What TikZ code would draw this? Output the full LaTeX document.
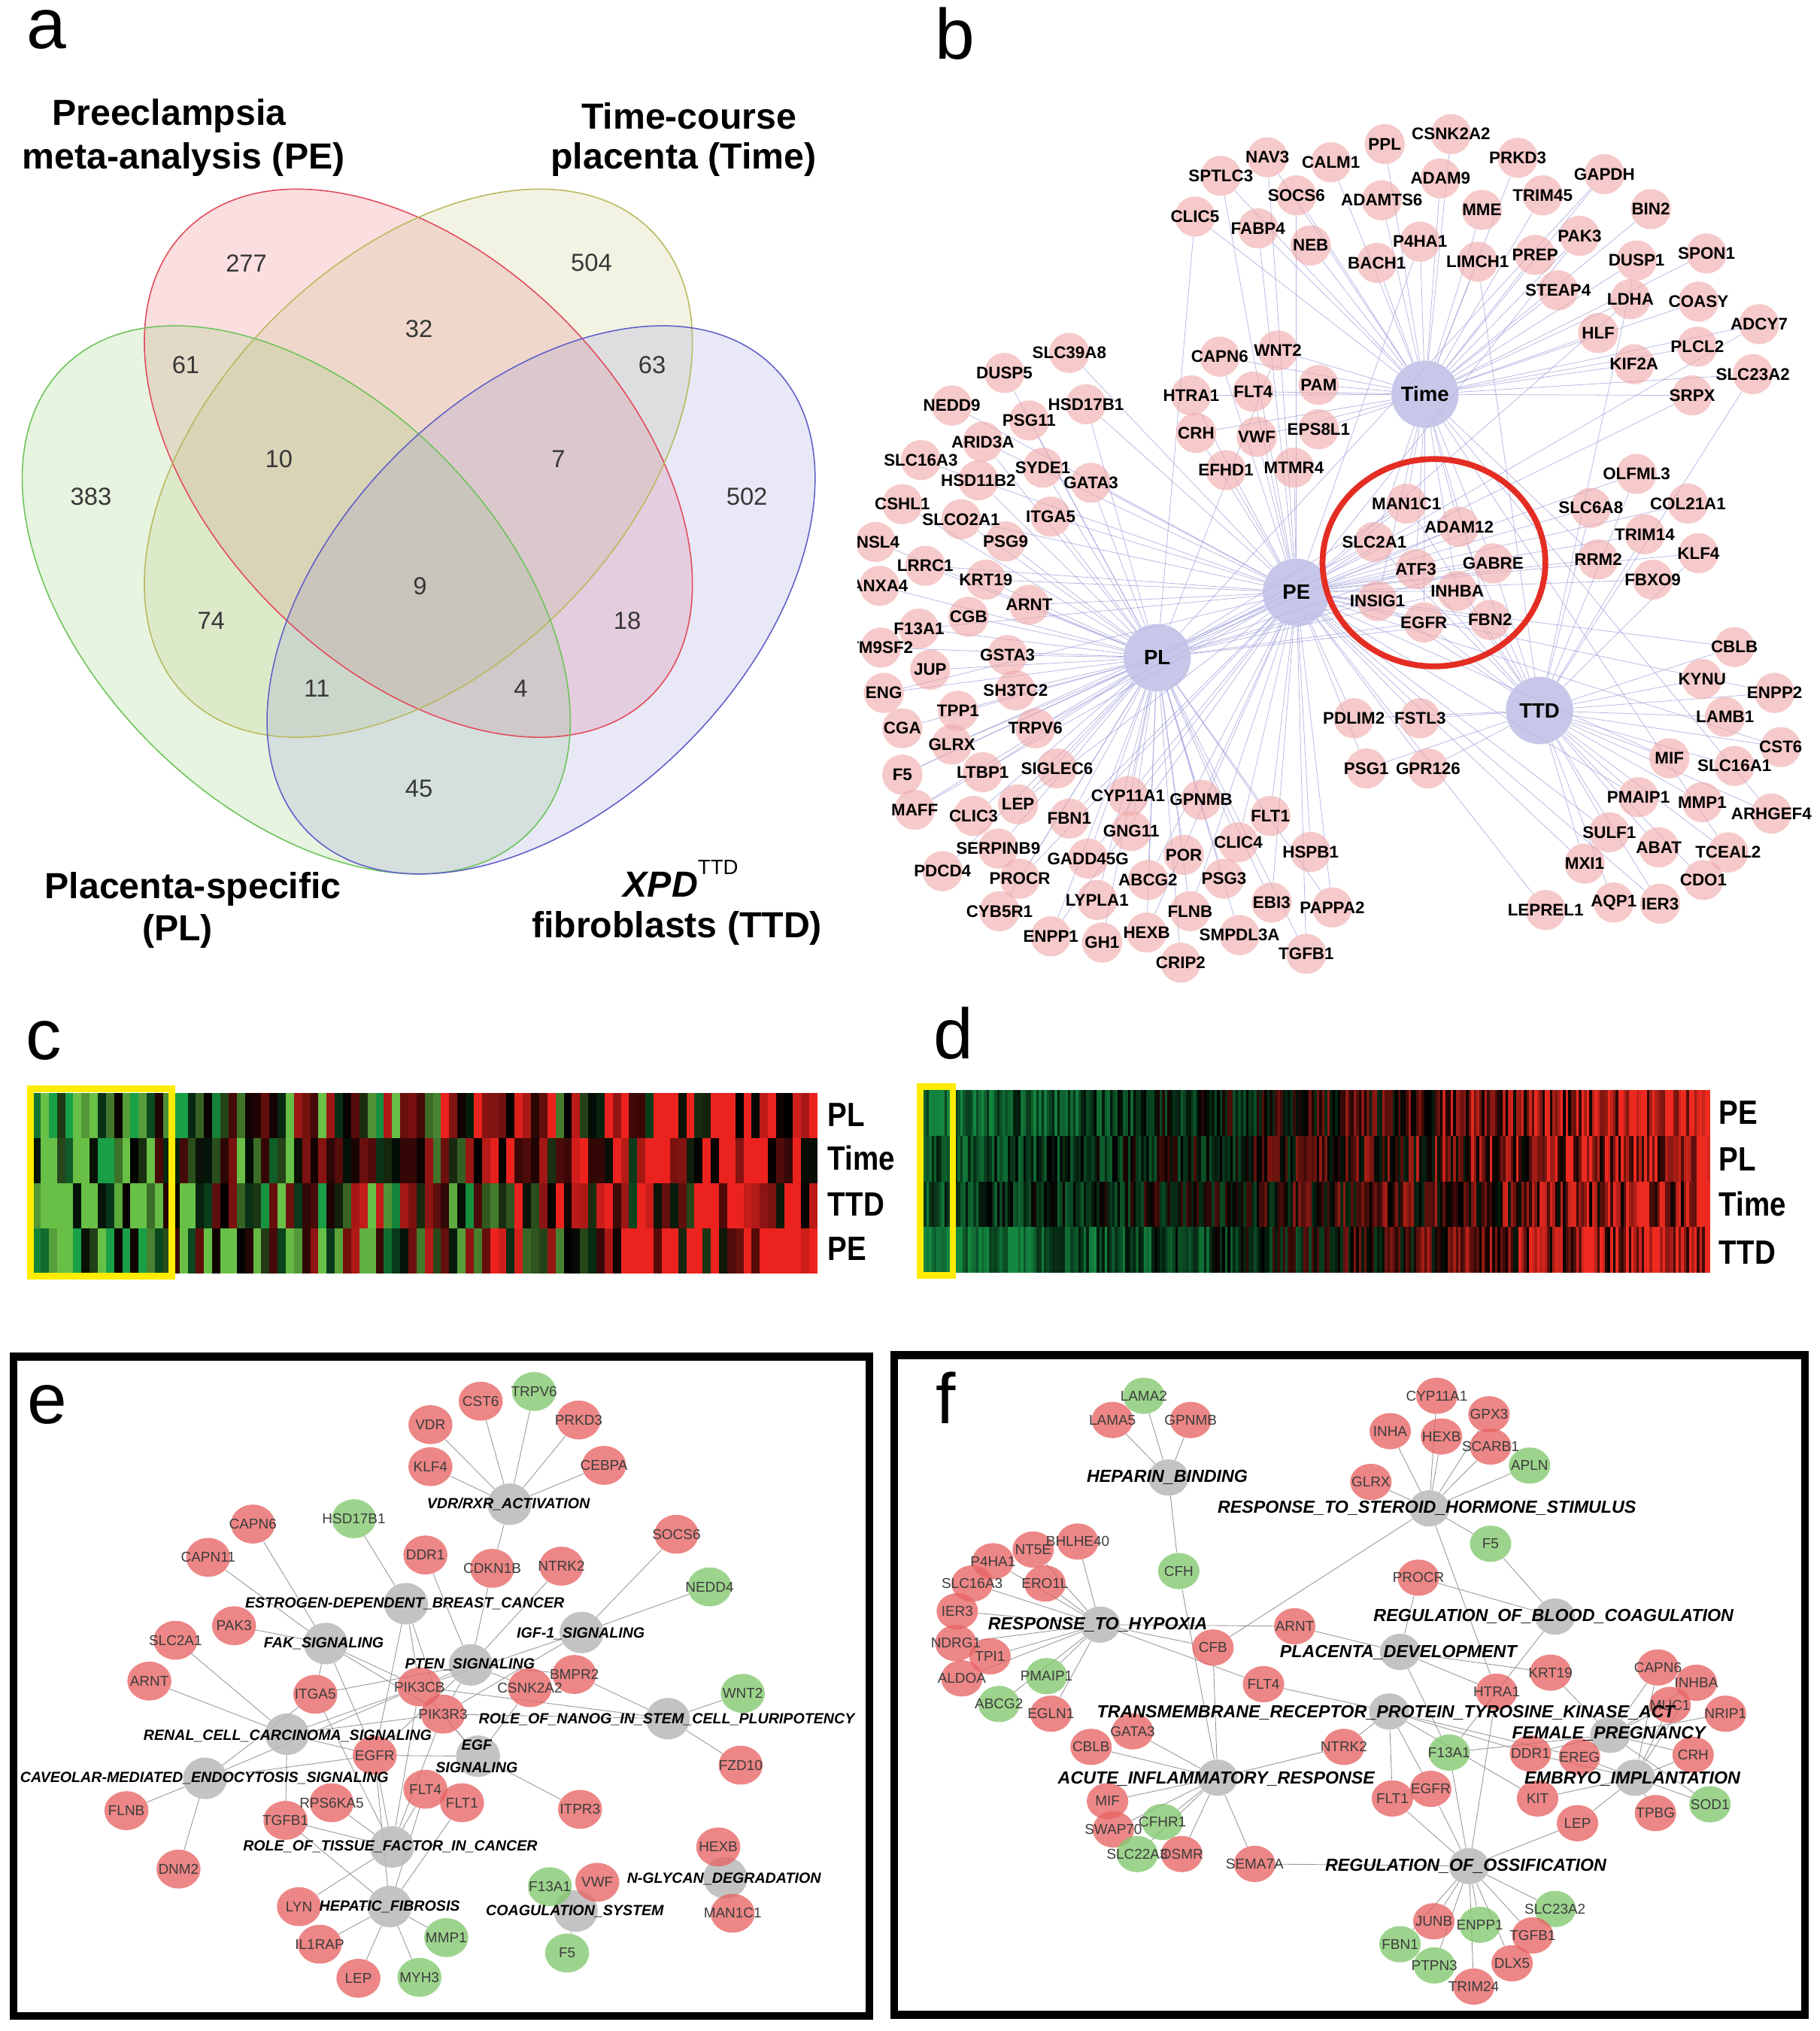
\documentclass[tikz,border=0pt]{standalone}
\usepackage{fontspec}
\setmainfont{Liberation Sans}
\newfontfamily\rowfont[FakeStretch=0.86]{Liberation Sans}
\usetikzlibrary{shapes.geometric}
\pgfdeclarelayer{bg}
\pgfsetlayers{bg,main}
\definecolor{vredL}{RGB}{225,75,90}
\definecolor{vredF}{RGB}{235,90,100}
\definecolor{vyelL}{RGB}{185,185,95}
\definecolor{vyelF}{RGB}{195,195,120}
\definecolor{vgrnL}{RGB}{110,195,90}
\definecolor{vgrnF}{RGB}{130,200,100}
\definecolor{vbluL}{RGB}{95,95,200}
\definecolor{vbluF}{RGB}{140,140,215}
\definecolor{numgray}{RGB}{55,55,55}
\definecolor{bpink}{RGB}{240,168,168}
\definecolor{bhubc}{RGB}{185,185,228}
\definecolor{bedgec}{RGB}{160,160,220}
\definecolor{circred}{RGB}{228,45,35}
\definecolor{hmg}{RGB}{105,192,70}
\definecolor{hmgb}{RGB}{25,160,70}
\definecolor{hmr}{RGB}{235,34,30}
\definecolor{hdg}{RGB}{20,135,65}
\definecolor{hdr}{RGB}{238,42,32}
\definecolor{hyel}{RGB}{255,236,0}
\definecolor{nred}{RGB}{232,100,100}
\definecolor{ngrn}{RGB}{130,200,110}
\definecolor{nhub}{RGB}{185,185,185}
\definecolor{ntext}{RGB}{60,60,60}
\definecolor{edgegray}{RGB}{150,150,150}
\tikzset{
 vnum/.style={font=\fontsize{19}{19}\selectfont, text=numgray, inner sep=0},
 vtitle/.style={font=\fontsize{28}{28}\selectfont\bfseries, inner sep=0},
 plab/.style={font=\fontsize{55}{55}\selectfont, inner sep=0},
 bgene/.style={circle, minimum size=31pt, inner sep=0, fill=bpink, fill opacity=0.6},
 bhub/.style={circle, minimum size=52pt, inner sep=0, fill=bhubc, fill opacity=0.8},
 btxt/.style={font=\fontsize{13}{13}\selectfont\bfseries, inner sep=0},
 bhtxt/.style={font=\fontsize{16}{16}\selectfont\bfseries, inner sep=0},
 bedge/.style={draw=bedgec, line width=0.45pt, opacity=0.75},
 rowlab/.style={font=\rowfont\fontsize{26}{26}\selectfont\bfseries, inner sep=0, anchor=west},
 gener/.style={ellipse, minimum width=34pt, minimum height=30pt, inner sep=0, fill=nred, fill opacity=0.78},
 geneg/.style={ellipse, minimum width=34pt, minimum height=30pt, inner sep=0, fill=ngrn, fill opacity=0.78},
 ehub/.style={ellipse, minimum width=34pt, minimum height=32pt, inner sep=0, fill=nhub, fill opacity=0.85},
 fgener/.style={ellipse, minimum width=32pt, minimum height=28pt, inner sep=0, fill=nred, fill opacity=0.78},
 fgeneg/.style={ellipse, minimum width=32pt, minimum height=28pt, inner sep=0, fill=ngrn, fill opacity=0.78},
 fhub/.style={ellipse, minimum width=31pt, minimum height=28pt, inner sep=0, fill=nhub, fill opacity=0.85},
 etxt/.style={font=\fontsize{11}{11}\selectfont, text=ntext, inner sep=0},
 ftxt/.style={font=\fontsize{11}{11}\selectfont, text=ntext, inner sep=0},
 ehtxt/.style={font=\fontsize{11.4}{17}\selectfont\bfseries\itshape, inner sep=0, align=center},
 fhtxt/.style={font=\fontsize{13.5}{13.5}\selectfont\bfseries\itshape, inner sep=0},
 nedge/.style={draw=edgegray, line width=0.5pt},
 panelbox/.style={draw=black, line width=6pt}
}
\def\blist{NAV3/978.4/121.4/{Ti,PE}, CALM1/1027.5/125.3/{Ti}, PPL/1069/111.2/{Ti}, CSNK2A2/1120.2/103.5/{Ti},
PRKD3/1171.7/121.8/{Ti}, SPTLC3/942.5/135.7/{Ti,PE}, ADAM9/1112/137.7/{Ti}, GAPDH/1238.6/134.4/{Ti,PL},
SOCS6/1000.8/150.8/{Ti,PE}, ADAMTS6/1066.7/154.6/{Ti}, TRIM45/1190.9/150.8/{Ti}, MME/1144/162/{Ti},
BIN2/1274.4/161.4/{Ti}, CLIC5/922.5/167.2/{Ti,PL}, FABP4/971.2/176.3/{Ti,PE}, PAK3/1219.5/182/{Ti,PE},
P4HA1/1096.3/186.5/{Ti,PE}, NEB/1011.8/189.4/{Ti}, SPON1/1317.4/195.6/{Ti}, PREP/1185.1/196.7/{Ti},
DUSP1/1263.4/201/{Ti,TT}, LIMCH1/1140.7/202/{Ti,TT}, BACH1/1062.9/202.9/{Ti}, STEAP4/1202.8/224.1/{Ti},
LDHA/1258.7/230.9/{Ti,PE}, COASY/1311.2/232.8/{Ti}, ADCY7/1358/250.2/{Ti,PE}, HLF/1233.8/257/{Ti},
PLCL2/1310.3/267.6/{Ti}, KIF2A/1261.5/281.1/{Ti}, SLC23A2/1353.2/288.8/{Ti,TT}, SRPX/1306.4/305.2/{Ti,PL},
CAPN6/941.6/275.3/{Ti,PE}, WNT2/986.5/270.5/{Ti,PL}, PAM/1018/297.1/{Ti}, HTRA1/919.6/305.2/{Ti,PE},
FLT4/967.4/302.3/{Ti,PE}, CRH/923.4/334.2/{Ti,PE}, VWF/970.2/337.1/{Ti,PE}, EPS8L1/1018/331.3/{Ti},
EFHD1/946.4/362.9/{PE}, MTMR4/998.9/361/{PE},
SLC39A8/825.5/272.4/{PE}, DUSP5/775.4/287.9/{PL}, HSD17B1/838.4/312/{PE,PL}, NEDD9/734.8/313/{PE},
PSG11/794.5/324.5/{PL}, ARID3A/758.7/341/{PL,PE}, SLC16A3/710.9/355.1/{PE}, SYDE1/805/361/{PL},
HSD11B2/755.3/370.7/{PL}, GATA3/842.2/372.6/{PL,PE}, CSHL1/696.6/389.1/{PL}, SLCO2A1/742/400.8/{PL,PE},
ITGA5/811.2/398.8/{PL,PE}, INSL4/676/418.3/{PL}, PSG9/776.3/417.9/{PL}, LRRC1/714.3/436.7/{PL,PE},
KRT19/761.1/447.4/{PL,PE}, ANXA4/679/452.2/{PL}, ARNT/794.5/466.8/{PL,PE}, CGB/747.7/476.1/{PL},
F13A1/709.5/485.2/{PL,PE}, TM9SF2/680/499.8/{PL}, GSTA3/777.8/505.6/{PL}, JUP/718.1/516.9/{PL},
SH3TC2/784/532.8/{PL}, ENG/682.3/534.8/{PL,PE}, TPP1/739.6/548.6/{PL}, CGA/696.6/562.1/{PL},
TRPV6/799.3/562.1/{PL,PE}, GLRX/734.8/574.7/{PL,PE}, F5/696.6/597.9/{PL,PE}, LTBP1/758.7/596/{PL},
SIGLEC6/816/593.1/{PL}, CYP11A1/870.9/614.4/{PL,PE}, GPNMB/927.2/617.3/{PL,PE}, LEP/785.9/620.8/{PL,PE},
MAFF/706.1/625/{PL,PE}, CLIC3/751.5/629.8/{PL}, FBN1/825.5/631.8/{PL,PE}, FLT1/980.7/629.8/{PL,PE},
GNG11/873.3/641.4/{PL}, CLIC4/955.9/650.1/{PL,PE}, HSPB1/1011.8/657.5/{PE}, SERPINB9/770.6/655/{PL},
GADD45G/839.9/662.7/{PL,PE}, POR/913.9/659.8/{PL}, PDCD4/727.6/672.4/{PL}, PROCR/787.3/678.2/{PL,PE},
ABCG2/886.2/679.2/{PL,PE}, PSG3/944.9/678.2/{PL}, LYPLA1/847/694.6/{PL}, EBI3/981.7/696.6/{PL,PE},
PAPPA2/1028.5/700.4/{PL,PE}, CYB5R1/771.6/703.3/{PL}, FLNB/918.7/703.3/{PL,PE}, ENPP1/811.2/722.7/{PL,PE},
GH1/850.8/727.5/{PL}, HEXB/885.2/719.8/{PL,PE}, SMPDL3A/956.9/721.7/{PL}, TGFB1/1008.4/736.2/{PL,PE},
CRIP2/911.5/743/{PL},
MAN1C1/1085.8/388.7/{Ti,PE,PL,TT}, ADAM12/1126.4/406.6/{Ti,PE,PL,TT}, SLC2A1/1061/418.3/{Ti,PE,PL,TT},
GABRE/1152.7/434.8/{Ti,PE,PL,TT}, ATF3/1093/439.2/{Ti,PE,PL,TT}, INHBA/1125/456.1/{Ti,PE,PL,TT},
INSIG1/1063.4/463.9/{Ti,PE,PL,TT}, EGFR/1099.2/480.4/{Ti,PE,PL,TT}, FBN2/1150.3/478.5/{Ti,PE,PL,TT},
OLFML3/1263.4/365.8/{PE,TT}, SLC6A8/1228.1/392/{PE,TT}, COL21A1/1303.1/388.7/{PE}, TRIM14/1269.7/412.4/{PE,TT},
KLF4/1311.2/427/{PE,TT}, RRM2/1233.8/431.8/{PE,Ti}, FBXO9/1275.9/447.4/{PE},
PDLIM2/1045.2/554.4/{PE,TT}, FSTL3/1096.3/554.4/{PE,TT}, PSG1/1054.8/593.1/{PE,TT}, GPR126/1102.5/593.1/{PE,TT},
CBLB/1338.9/499.4/{TT,PE}, KYNU/1314/524.1/{TT}, ENPP2/1370/534.8/{TT,PE}, LAMB1/1331.7/553.3/{TT},
CST6/1374.7/576.6/{TT,PE}, MIF/1288.7/585.3/{TT,PE}, SLC16A1/1339/591.2/{TT}, PMAIP1/1264.9/615.3/{TT,PE},
MMP1/1314.1/619.2/{TT}, ARHGEF4/1367.5/627.9/{TT,Ti}, SULF1/1242.4/642.4/{TT,PE}, ABAT/1280.6/654/{TT},
TCEAL2/1334.1/657.9/{TT,Ti}, MXI1/1223.3/666.6/{TT,PE}, CDO1/1315/679.2/{TT}, LEPREL1/1193.2/702.4/{PE},
AQP1/1245.8/696.6/{TT}, IER3/1281.6/697.5/{TT,PE}}
\def\elist{VDR/332.3/1099.6/r, CST6/371.1/1081.5/r, TRPV6/412.3/1074/g, PRKD3/446.7/1096/r, KLF4/332.3/1132/r,
CEBPA/466.3/1131/r, HSD17B1/273.2/1172.2/g, CAPN6/195.2/1176.3/r, CAPN11/160.7/1202/r, DDR1/328.4/1200.2/r,
CDKN1B/380/1210.5/r, NTRK2/433.4/1208.8/r, SOCS6/522.2/1184.2/r, NEDD4/547.8/1224.8/g, PAK3/180.7/1254.8/r,
SLC2A1/135.5/1266/r, ARNT/115.3/1297.5/r, ITGA5/243.4/1307.7/r, PIK3CB/323.8/1302/r, PIK3R3/342/1323/r,
BMPR2/443.4/1292.4/r, CSNK2A2/409/1302.6/r, WNT2/573.4/1307/g, EGFR/289.3/1354.8/r, FLT4/328.4/1381/r,
FLT1/356.7/1391.4/r, FZD10/571.8/1362.4/r, FLNB/97.6/1397.5/r, RPS6KA5/256/1391.4/r, TGFB1/220.4/1405/r,
ITPR3/447.8/1396.5/r, DNM2/137.8/1442.6/r, HEXB/554.5/1425.5/r, F13A1/424.5/1456.2/g, VWF/461.1/1452.8/r,
MAN1C1/565.6/1476.7/r, LYN/230.8/1471.6/r, IL1RAP/246.8/1500.6/r, MMP1/344.5/1495.5/g, F5/437.8/1507.4/g,
LEP/276.7/1526.9/r, MYH3/323.8/1526.2/g}
\def\flist{LAMA2/883/1077.3/g, LAMA5/858.8/1096/r, GPNMB/919.2/1096/r, CYP11A1/1109.2/1077.3/r, GPX3/1149.5/1091.6/r,
INHA/1073.2/1104.6/r, HEXB/1112.8/1108.7/r, SCARB1/1150.7/1116.5/r, APLN/1180.8/1131.2/g, GLRX/1058.3/1143.8/r,
F5/1150.7/1191.5/g, BHLHE40/832/1189.8/r, NT5E/797.6/1196/r, P4HA1/766.6/1205/r, ERO1L/806.7/1222.2/r,
SLC16A3/750.5/1222.2/r, CFH/910/1212.6/g, PROCR/1095/1217.7/r, IER3/739/1243.6/r, ARNT/999.5/1255.2/r,
NDRG1/737.9/1268.2/r, CFB/936.4/1271.6/r, TPI1/764.3/1278.4/r, KRT19/1197/1291/r, CAPN6/1279.9/1287/r,
INHBA/1309.5/1298.8/r, ALDOA/742.5/1295.4/r, PMAIP1/807.9/1293.7/g, FLT4/975.4/1299.9/r, HTRA1/1155.4/1305.7/r,
MUC1/1289.3/1315.9/r, NRIP1/1332/1322.7/r, ABCG2/771.2/1315.2/g, EGLN1/811.3/1322.7/r, GATA3/874.4/1336.3/r,
CBLB/842.3/1348.3/r, NTRK2/1037.4/1348.3/r, F13A1/1118.7/1352.7/g, DDR1/1181.5/1353.4/r, EREG/1219.4/1356.1/r,
CRH/1307.1/1354.4/r, FLT1/1074.9/1388.1/r, EGFR/1104.5/1380.7/r, KIT/1187/1388.1/r, SOD1/1320.1/1392.6/g,
MIF/855/1390.2/r, CFHR1/897.4/1406.2/g, SWAP70/859.5/1412/r, TPBG/1278/1399.4/r, LEP/1217.8/1407.2/r,
SLC22A3/877.9/1431/g, OSMR/912.3/1431/r, SEMA7A/968.6/1438.6/r, SLC23A2/1200.5/1473.4/g, JUNB/1106.9/1482.9/r,
ENPP1/1142.4/1485.6/g, TGFB1/1183.2/1493.8/r, FBN1/1080.8/1500.6/g, DLX5/1167.3/1515.3/r, PTPN3/1107.3/1517/g,
TRIM24/1137.7/1533.3/r}
\begin{document}
\begin{tikzpicture}[x=1pt,y=-1pt]
\begin{pgfonlayer}{bg}
\fill[white] (0,0) rectangle (1405,1567.6);
\end{pgfonlayer}
\useasboundingbox (0,0) rectangle (1405,1567.6);

% ---------- panel letters
\node[plab] (la) at (36,23) {a};
\node[plab] (lb) at (737,26) {b};
\node[plab] (lc) at (34,803) {c};
\node[plab] (ld) at (736,797.6) {d};
\node[plab] (le) at (36.7,1084) {e};
\node[plab] (lf) at (729.9,1079) {f};

% ---------- panel a: Venn
\foreach \cx/\cy/\ang/\col in {323/357.5/-45/vred, 323/357.5/45/vyel, 228.7/463/-45/vgrn, 417.7/463/45/vblu}{
  \fill[\col F, fill opacity=0.2, rotate around={\ang:(\cx,\cy)}] (\cx,\cy) ellipse [x radius=254pt, y radius=158pt];
}
\foreach \cx/\cy/\ang/\col in {323/357.5/-45/vred, 323/357.5/45/vyel, 228.7/463/-45/vgrn, 417.7/463/45/vblu}{
  \draw[\col L, line width=0.9pt, rotate around={\ang:(\cx,\cy)}] (\cx,\cy) ellipse [x radius=254pt, y radius=158pt];
}
\foreach \nm/\x/\y in {277/190.2/203, 504/456.6/203, 32/323.4/254, 61/143.4/281.8, 63/503.4/281.8,
  10/215.3/354.3, 7/431/354.3, 383/70.2/383.5, 502/576.6/383.5, 9/324.3/452.7, 74/163/479,
  18/484.3/479, 11/244.7/531.5, 4/402.1/531.5, 45/323.4/608.9}{
  \node[vnum] (v\nm) at (\x,\y) {\nm};
}
\node[vtitle] (t1) at (130.6,89.3) {Preeclampsia};
\node[vtitle] (t2) at (141.7,123.2) {meta-analysis (PE)};
\node[vtitle] (t3) at (531.9,89.3) {Time-course};
\node[vtitle] (t4) at (527.7,123.2) {placenta (Time)};
\node[vtitle] (t5) at (149,686.2) {Placenta-specific};
\node[vtitle] (t6) at (137,718.7) {(PL)};
\node[vtitle] (t7) at (525.5,678) {\textit{XPD}\raisebox{0.62em}{\fontsize{16}{16}\selectfont\mdseries TTD}};
\node[vtitle] (t8) at (522.6,716.3) {fibroblasts (TTD)};

% ---------- panel b: network
\node[bhub] (bhTi) at (1100.1,304.3) {};
\node[bhub] (bhPE) at (1000.8,457.1) {};
\node[bhub] (bhPL) at (893.3,507.6) {};
\node[bhub] (bhTT) at (1188.5,548.4) {};
\begin{scope}
\clip (662,60) rectangle (1405,770);
\foreach \n/\x/\y/\h in \blist { \node[bgene] (b\n) at (\x,\y) {}; }
\draw[circred, line width=4.5pt] (1107,434.3) ellipse [x radius=86pt, y radius=80pt];
\foreach \n/\x/\y/\h in \blist { \node[btxt] at (b\n) {\n}; }
\end{scope}
\node[bhtxt] at (bhTi) {Time};
\node[bhtxt] at (bhPE) {PE};
\node[bhtxt] at (bhPL) {PL};
\node[bhtxt] at (bhTT) {TTD};
\begin{pgfonlayer}{bg}
\foreach \n/\x/\y/\h in \blist { \foreach \k in \h { \draw[bedge] (b\n) -- (bh\k); } }
\end{pgfonlayer}

% ---------- panel c: heatmap
\pgfmathsetseed{20240}
\foreach \ytop in {843.8,878.6,913.4,948.2}{
  \foreach \cl in {0,...,95}{
    \pgfmathsetmacro\vv{-1.05+2.05*\cl/95+1.1*rand}
    \pgfmathsetmacro\ss{rand}
    \pgfmathtruncatemacro\pp{min(100,abs(\vv)*92)}
    \ifdim\vv pt<0pt
      \ifdim\ss pt<-0.3pt\def\cc{hmgb}\else\def\cc{hmg}\fi
    \else\def\cc{hmr}\fi
    \fill[\cc!\pp!black] (25+6.31*\cl,\ytop) rectangle ++(6.45,34.9);
  }
}
\draw[hyel, line width=5pt] (23.5,840.3) rectangle (132.5,985);
\node[rowlab] (cPL) at (639,860.6) {PL};
\node[rowlab] (cTi) at (639,894) {Time};
\node[rowlab] (cTT) at (639,929.5) {TTD};
\node[rowlab] (cPE) at (639,964) {PE};

% ---------- panel d: heatmap
\foreach \ytop/\amp/\off in {841.3/1.0/0.0, 876.6/0.85/0.05, 911.9/0.7/0.05, 947.2/1.1/-0.12}{
  \foreach \cl in {0,...,299}{
    \pgfmathsetmacro\vv{\amp*(-0.8+1.7*\cl/299)+\off+(0.4+0.25*\cl/299)*rand}
    \pgfmathtruncatemacro\pp{min(100,abs(\vv)*100)}
    \ifdim\vv pt<0pt\def\cc{hdg}\else\def\cc{hdr}\fi
    \fill[\cc!\pp!black] (713+2.0233*\cl,\ytop) rectangle ++(2.1,35.4);
  }
}
\draw[hyel, line width=5pt] (710.5,838.5) rectangle (735.7,984.5);
\node[rowlab] (dPE) at (1327,858.6) {PE};
\node[rowlab] (dPL) at (1327,895) {PL};
\node[rowlab] (dTi) at (1327,929.5) {Time};
\node[rowlab] (dTT) at (1327,966.9) {TTD};

% ---------- panel e
\draw[panelbox] (10.5,1047) rectangle (671,1556);
\foreach \n/\x/\y in {VDR/393.4/1161, EST/313.4/1237.8, FAK/251.4/1268.5, IGF/449/1260, PTEN/363.4/1285,
  NANOG/515.6/1326.5, RENAL/221.6/1338.5, EGF/369/1355.5, CAV/158.4/1372.6, TISSUE/302.6/1425.5,
  HEP/300.8/1471.6, COAG/444.5/1475, NGLY/560/1449.4}{
  \node[ehub] (eh\n) at (\x,\y) {};
}
\foreach \n/\x/\y/\cl in \elist { \node[gene\cl] (e\n) at (\x,\y) {}; }
\begin{pgfonlayer}{bg}
\foreach \ea/\eb in {ehVDR/eVDR, ehVDR/eCST6, ehVDR/eTRPV6, ehVDR/ePRKD3, ehVDR/eKLF4, ehVDR/eCEBPA, ehVDR/eCDKN1B,
  ehEST/eHSD17B1, ehEST/ePIK3CB, ehEST/ePIK3R3, ehEST/eEGFR,
  ehFAK/eCAPN6, ehFAK/eCAPN11, ehFAK/ePAK3, ehFAK/eITGA5, ehFAK/ePIK3CB, ehFAK/ePIK3R3, ehFAK/eEGFR,
  ehPTEN/eDDR1, ehPTEN/eCDKN1B, ehPTEN/eNTRK2, ehPTEN/ePIK3CB, ehPTEN/ePIK3R3, ehPTEN/eCSNK2A2, ehPTEN/eBMPR2, ehPTEN/eEGFR, ehPTEN/eITGA5,
  ehIGF/eSOCS6, ehIGF/eNEDD4, ehIGF/ePIK3CB, ehIGF/ePIK3R3,
  ehNANOG/eWNT2, ehNANOG/eFZD10, ehNANOG/eBMPR2, ehNANOG/ePIK3CB, ehNANOG/ePIK3R3,
  ehRENAL/eSLC2A1, ehRENAL/eARNT, ehRENAL/ePIK3CB, ehRENAL/ePIK3R3, ehRENAL/eTGFB1, ehRENAL/eEGFR,
  ehEGF/eEGFR, ehEGF/ePIK3CB, ehEGF/ePIK3R3, ehEGF/eITPR3, ehEGF/eCSNK2A2,
  ehCAV/eFLNB, ehCAV/eDNM2, ehCAV/eEGFR, ehCAV/eITGA5, ehCAV/ePIK3CB,
  ehTISSUE/eRPS6KA5, ehTISSUE/eEGFR, ehTISSUE/ePIK3CB, ehTISSUE/ePIK3R3, ehTISSUE/eITGA5, ehTISSUE/eFLT4, ehTISSUE/eTGFB1, ehTISSUE/eLYN,
  ehHEP/eLYN, ehHEP/eIL1RAP, ehHEP/eLEP, ehHEP/eMYH3, ehHEP/eMMP1, ehHEP/eFLT1, ehHEP/eFLT4, ehHEP/eEGFR, ehHEP/eTGFB1,
  ehCOAG/eF13A1, ehCOAG/eVWF, ehCOAG/eF5, ehNGLY/eHEXB, ehNGLY/eMAN1C1}{
  \draw[nedge] (\ea) -- (\eb);
}
\end{pgfonlayer}
\foreach \n/\x/\y/\cl in \elist { \node[etxt] at (e\n) {\n}; }
\node[ehtxt] at (392.5,1161) {VDR/RXR\_ACTIVATION};
\node[ehtxt] at (312.5,1237.8) {ESTROGEN-DEPENDENT\_BREAST\_CANCER};
\node[ehtxt] at (250,1268.5) {FAK\_SIGNALING};
\node[ehtxt] at (448.3,1261) {IGF-1\_SIGNALING};
\node[ehtxt] at (362.8,1285) {PTEN\_SIGNALING};
\node[ehtxt] at (514.7,1327) {ROLE\_OF\_NANOG\_IN\_STEM\_CELL\_PLURIPOTENCY};
\node[ehtxt] at (222,1340) {RENAL\_CELL\_CARCINOMA\_SIGNALING};
\node[ehtxt] at (368,1355.5) {EGF\\SIGNALING};
\node[ehtxt] at (157.8,1372.6) {CAVEOLAR-MEDIATED\_ENDOCYTOSIS\_SIGNALING};
\node[ehtxt] at (301.3,1425.5) {ROLE\_OF\_TISSUE\_FACTOR\_IN\_CANCER};
\node[ehtxt] at (300.8,1471.6) {HEPATIC\_FIBROSIS};
\node[ehtxt] at (443.8,1475) {COAGULATION\_SYSTEM};
\node[ehtxt] at (558.9,1450) {N-GLYCAN\_DEGRADATION};

% ---------- panel f
\draw[panelbox] (690.5,1046) rectangle (1393.5,1555);
\foreach \n/\x/\y in {HEP/902/1140.4, STER/1103.3/1164.2, HYP/849.2/1253.9, BLOOD/1200.5/1247.7,
  PLAC/1080.8/1275, TRANS/1072.5/1321, FEM/1243.1/1339, ACUTE/939.9/1372.1, EMB/1262.1/1372.1, OSS/1134.1/1440.3}{
  \node[fhub] (fh\n) at (\x,\y) {};
}
\foreach \n/\x/\y/\cl in \flist { \node[fgene\cl] (f\n) at (\x,\y) {}; }
\begin{pgfonlayer}{bg}
\foreach \ea/\eb in {fhHEP/fLAMA2, fhHEP/fLAMA5, fhHEP/fGPNMB, fhHEP/fCFH,
  fhSTER/fCYP11A1, fhSTER/fINHA, fhSTER/fHEXB, fhSTER/fGPX3, fhSTER/fSCARB1, fhSTER/fAPLN, fhSTER/fGLRX, fhSTER/fF5, fhSTER/fCFB, fhSTER/fHTRA1,
  fhHYP/fBHLHE40, fhHYP/fNT5E, fhHYP/fP4HA1, fhHYP/fERO1L, fhHYP/fSLC16A3, fhHYP/fIER3, fhHYP/fNDRG1, fhHYP/fTPI1, fhHYP/fALDOA,
  fhHYP/fPMAIP1, fhHYP/fABCG2, fhHYP/fEGLN1, fhHYP/fARNT, fhHYP/fCFB, fhHYP/fFLT4,
  fhBLOOD/fF5, fhBLOOD/fPROCR, fhBLOOD/fF13A1,
  fhPLAC/fPROCR, fhPLAC/fARNT, fhPLAC/fKRT19, fhPLAC/fHTRA1, fhPLAC/fF13A1,
  fhTRANS/fFLT4, fhTRANS/fNTRK2, fhTRANS/fFLT1, fhTRANS/fEGFR, fhTRANS/fDDR1, fhTRANS/fKIT, fhTRANS/fEREG,
  fhFEM/fCAPN6, fhFEM/fINHBA, fhFEM/fMUC1, fhFEM/fNRIP1, fhFEM/fCRH, fhFEM/fEREG, fhFEM/fDDR1, fhFEM/fKRT19, fhFEM/fSOD1, fhFEM/fF13A1,
  fhEMB/fMUC1, fhEMB/fCRH, fhEMB/fLEP, fhEMB/fSOD1, fhEMB/fTPBG, fhEMB/fKIT, fhEMB/fEREG, fhEMB/fDDR1, fhEMB/fINHBA, fhEMB/fCAPN6,
  fhACUTE/fCBLB, fhACUTE/fGATA3, fhACUTE/fMIF, fhACUTE/fSWAP70, fhACUTE/fCFHR1, fhACUTE/fSLC22A3, fhACUTE/fOSMR, fhACUTE/fSEMA7A,
  fhACUTE/fNTRK2, fhACUTE/fCFB, fhACUTE/fCFH,
  fhOSS/fSEMA7A, fhOSS/fFLT1, fhOSS/fEGFR, fhOSS/fF13A1, fhOSS/fLEP, fhOSS/fSLC23A2, fhOSS/fJUNB, fhOSS/fENPP1, fhOSS/fTGFB1,
  fhOSS/fFBN1, fhOSS/fDLX5, fhOSS/fPTPN3, fhOSS/fTRIM24, fhOSS/fHTRA1}{
  \draw[nedge] (\ea) -- (\eb);
}
\end{pgfonlayer}
\foreach \n/\x/\y/\cl in \flist { \node[ftxt] at (f\n) {\n}; }
\node[fhtxt] at (901.1,1140) {HEPARIN\_BINDING};
\node[fhtxt] at (1101.5,1164.2) {RESPONSE\_TO\_STEROID\_HORMONE\_STIMULUS};
\node[fhtxt] at (847.4,1254) {RESPONSE\_TO\_HYPOXIA};
\node[fhtxt] at (1199.3,1247.7) {REGULATION\_OF\_BLOOD\_COAGULATION};
\node[fhtxt] at (1079.5,1275.5) {PLACENTA\_DEVELOPMENT};
\node[fhtxt] at (1069.9,1322) {TRANSMEMBRANE\_RECEPTOR\_PROTEIN\_TYROSINE\_KINASE\_ACT};
\node[fhtxt] at (1241.9,1338) {FEMALE\_PREGNANCY};
\node[fhtxt] at (939,1372.8) {ACUTE\_INFLAMMATORY\_RESPONSE};
\node[fhtxt] at (1260.2,1373) {EMBRYO\_IMPLANTATION};
\node[fhtxt] at (1131.6,1440.3) {REGULATION\_OF\_OSSIFICATION};
\end{tikzpicture}
\end{document}
